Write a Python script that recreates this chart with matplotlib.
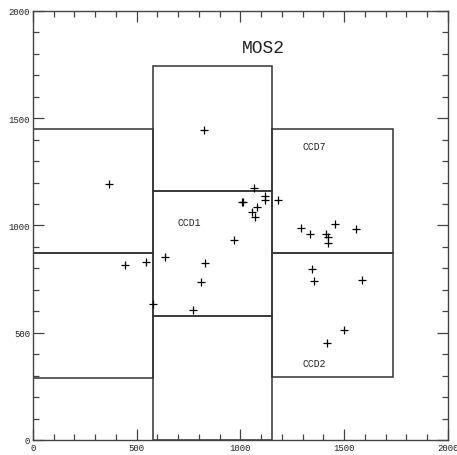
import matplotlib
matplotlib.use('Agg')
import matplotlib.pyplot as plt
from matplotlib.patches import Rectangle
from matplotlib.ticker import MultipleLocator

# source positions (detector coords)
src_x = [825, 1063, 1006, 1014, 1118, 1118, 1182, 1080, 1055, 1071, 970, 638, 546,
         831, 810, 577, 773, 1293, 1335, 1454, 1557, 1412, 1422, 1422, 1346, 1354,
         1586, 1499, 1417, 366, 443]
src_y = [1444, 1174, 1111, 1110, 1137, 1121, 1119, 1087, 1063, 1038, 931, 851, 829,
         823, 737, 634, 606, 987, 960, 1009, 982, 960, 945, 917, 798, 742,
         745, 514, 450, 1194, 816]

# CCD outlines: x0, y0, width, height
ccd_x0 = [0, 0, 578, 578, 578, 1152, 1152]
ccd_y0 = [290, 871, 0, 577, 1162, 295, 871]
ccd_w = [578, 578, 574, 574, 574, 581, 581]
ccd_h = [581, 581, 577, 585, 580, 576, 581]

ccd_names = ['CCD1', 'CCD7', 'CCD2']
ccd_lx = [753, 1354, 1354]
ccd_ly = [1018, 1369, 361]

fig = plt.figure(figsize=(4.57, 4.56), dpi=100)
ax = fig.add_axes([0.0722, 0.0329, 0.908, 0.9408])

for x0, y0, w, h in zip(ccd_x0, ccd_y0, ccd_w, ccd_h):
    ax.add_patch(Rectangle((x0, y0), w, h, fill=False, ec='#333333', lw=1.1))

ax.plot(src_x, src_y, '+', color='black', ms=6, mew=0.9)

for name, lx, ly in zip(ccd_names, ccd_lx, ccd_ly):
    ax.text(lx, ly, name, ha='center', va='center', fontsize=7,
            family='Liberation Mono', color='#222222')

ax.text(1108, 1831, 'MOS2', ha='center', va='center', fontsize=13,
        family='Liberation Mono', color='#222222')

ax.set_xlim(0, 2000)
ax.set_ylim(0, 2000)
ax.xaxis.set_major_locator(MultipleLocator(500))
ax.xaxis.set_minor_locator(MultipleLocator(100))
ax.yaxis.set_major_locator(MultipleLocator(500))
ax.yaxis.set_minor_locator(MultipleLocator(100))
ax.tick_params(which='both', direction='in', top=True, right=True,
               color='#444444', width=0.9, labelsize=6.5, pad=2)
ax.tick_params(which='major', length=8)
ax.tick_params(which='minor', length=4)
for lab in ax.get_xticklabels() + ax.get_yticklabels():
    lab.set_family('Liberation Mono')
    lab.set_color('#222222')
for s in ax.spines.values():
    s.set_color('#444444')
    s.set_linewidth(1.0)

fig.savefig('out.png', dpi=100)
